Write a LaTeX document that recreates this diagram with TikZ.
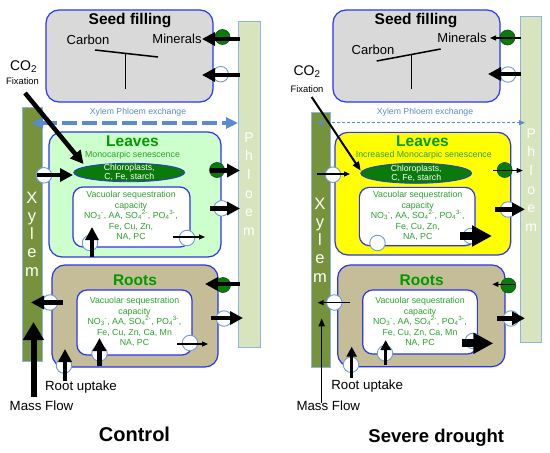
\documentclass[tikz,border=0pt]{standalone}
\usepackage{fontspec}
\setmainfont{Liberation Sans}
\usetikzlibrary{arrows.meta, shapes.geometric, positioning}
\definecolor{BoxBlue}{HTML}{2A35F0}
\definecolor{PortBlue}{HTML}{6F9BD6}
\definecolor{SeedGray}{HTML}{D9D9D9}
\definecolor{LeafMint}{HTML}{CCFFCC}
\definecolor{LeafYellow}{HTML}{FFFF00}
\definecolor{RootTan}{HTML}{C4BD97}
\definecolor{XylemOlive}{HTML}{76923C}
\definecolor{PhloemPale}{HTML}{D7E4BD}
\definecolor{BarEdge}{HTML}{8EB4E3}
\definecolor{ChloroGreen}{HTML}{0A7A0A}
\definecolor{TitleGreen}{HTML}{009A00}
\definecolor{TextGreen}{HTML}{2EA02E}
\definecolor{ExchBlue}{HTML}{5A8AD2}
\newcommand{\pxfont}[2]{\fontsize{#1}{#2}\selectfont}

\tikzset{
  organ/.style={draw=BoxBlue, line width=1.2, rounded corners=13, inner sep=0pt},
  vacuole/.style={draw=BoxBlue, fill=white, line width=1.2, rounded corners=10, inner sep=0pt},
  vactext/.style={text=TextGreen, align=center, inner sep=0pt, font=\pxfont{8.8}{10.5}},
  bar/.style={draw=BarEdge, line width=0.8, inner sep=0pt},
  xyletter/.style={text=white, anchor=base, inner sep=0pt, font=\pxfont{16.5}{17}},
  phletter/.style={text=white, anchor=base, inner sep=0pt, font=\pxfont{14}{14}},
  port/.style={circle, draw=PortBlue, fill=white, line width=0.9, minimum size=15.5, inner sep=0pt},
  gport/.style={circle, draw=ChloroGreen!70!black, fill=ChloroGreen, line width=0.6, minimum size=15, inner sep=0pt},
  chloro/.style={ellipse, draw=BoxBlue, fill=ChloroGreen, line width=0.8, inner sep=0pt},
  chlorotext/.style={text=white, align=center, inner sep=0pt, font=\pxfont{8.7}{9.5}},
  seedtitle/.style={font=\bfseries\pxfont{15.5}{16}, inner sep=0pt},
  organtitle/.style={text=TitleGreen, font=\bfseries\pxfont{15.5}{16}, inner sep=0pt},
  subtitle/.style={text=TextGreen, font=\pxfont{8.8}{10}, inner sep=0pt},
  seedword/.style={font=\pxfont{13}{14}, inner sep=0pt},
  footword/.style={font=\pxfont{13.3}{14}, inner sep=0pt},
  exchword/.style={text=ExchBlue, font=\pxfont{8.7}{10}, inner sep=0pt},
  caption/.style={font=\bfseries\pxfont{20}{20}, inner sep=0pt},
  beam/.style={line width=1.5},
  fatarr/.style={line width=4.5, -{Triangle[length=13pt,width=13pt]}},
  medarr/.style={line width=3.2, -{Triangle[length=10pt,width=10pt]}},
  thinarr/.style={line width=1.1, -{Triangle[length=6pt,width=5pt]}},
  hugearr/.style={line width=8, -{Triangle[length=20pt,width=20pt]}},
  flowarr/.style={line width=6, -{Triangle[length=18pt,width=20pt]}},
}

\begin{document}
\begin{tikzpicture}[x=1pt, y=-1pt]
\useasboundingbox (0,0) rectangle (550,453);

%% ---------- Control ----------
% bars
\node[bar, fill=PhloemPale, minimum width=22, minimum height=326] (phL) at (249,184) {};
\foreach \c [count=\i from 0] in {P,h,l,o,e,m}
  \node[phletter] (phL\i) at (249,142+18.7*\i) {\c};
\node[bar, fill=XylemOlive, minimum width=20, minimum height=254] (xyL) at (32,234) {};
\foreach \c [count=\i from 0] in {X,y,l,e,m}
  \node[xyletter] (xyL\i) at (32,203+18.3*\i) {\c};

% seed filling
\node[organ, fill=SeedGray, minimum width=167, minimum height=92] (seedL) at (129.5,56) {};
\node[seedtitle] (seedLt) at (130,21) {Seed filling};
\node[seedword] (carbL) at (88,40) {Carbon};
\node[seedword] (minL) at (177,39) {Minerals};
\coordinate (beamL1) at (95,50);
\coordinate (beamL2) at (158,57);
\coordinate (beamL3) at (125.7,53.4);
\coordinate (beamL4) at (125.7,89);
\draw[beam] (beamL1) -- (beamL2);
\draw[beam] (beamL3) -- (beamL4);

% leaves
\node[organ, fill=LeafMint, minimum width=172, minimum height=125] (leafL) at (135,194.5) {};
\node[organtitle] (leafLt) at (132.5,141.5) {Leaves};
\node[subtitle] (senL) at (132.5,155.5) {Monocarpic senescence};
\node[chloro, minimum width=111, minimum height=18.5] (chlL) at (129.2,172.5) {};
\node[chlorotext] (chlLt) at (chlL) {Chloroplasts,\\C, Fe, starch};
\node[vacuole, minimum width=117, minimum height=60] (vacL1) at (131.5,217) {};
\node[vactext] (vacL1t) at (131,216) {Vacuolar sequestration\\capacity\\NO\textsubscript{3}\textsuperscript{-}, AA, SO\textsubscript{4}\textsuperscript{2-}, PO\textsubscript{4}\textsuperscript{3-},\\Fe, Cu, Zn,\\NA, PC};

% roots
\node[organ, fill=RootTan, minimum width=166, minimum height=102] (rootL) at (135,316) {};
\node[organtitle] (rootLt) at (135,280) {Roots};
\node[vacuole, minimum width=115, minimum height=65] (vacL2) at (134.5,322.5) {};
\node[vactext] (vacL2t) at (134.5,322) {Vacuolar sequestration\\capacity\\NO\textsubscript{3}\textsuperscript{-}, AA, SO\textsubscript{4}\textsuperscript{2-}, PO\textsubscript{4}\textsuperscript{3-},\\Fe, Cu, Zn, Ca, Mn\\NA, PC};

% texts
\node[exchword] (exL) at (138,112.5) {Xylem Phloem exchange};
\node[font=\pxfont{14}{14}, inner sep=0pt] (co2L) at (23.5,67) {CO\textsubscript{2}};
\node[font=\pxfont{9.4}{10}, inner sep=0pt] (fixL) at (22.5,81.5) {Fixation};
\node[footword] (uptL) at (81,387) {Root uptake};
\node[footword] (massL) at (41.5,406) {Mass Flow};
\node[caption] (ctrl) at (134.5,434) {Control};

% transporters
\node[gport] (gsL) at (222.5,37) {};
\node[port] (psL) at (220.7,74.2) {};
\node[port] (plL1) at (44,175.3) {};
\node[gport] (glL) at (217,170) {};
\node[port] (plL2) at (221.7,208.3) {};
\node[port] (pvL1) at (90,243) {};
\node[port] (pvL2) at (187,238) {};
\node[port] (prL1) at (50,302.5) {};
\node[gport] (grL) at (223,285) {};
\node[port] (prL2) at (224,318.5) {};
\node[port] (pvL3) at (190,343) {};
\node[port] (pvL4) at (99.5,353.5) {};
\node[port] (prL3) at (64,365.5) {};

% fluxes
\coordinate (exLa) at (31,123);
\coordinate (exLb) at (238,123);
\draw[ExchBlue, line width=4, dash pattern=on 15pt off 5pt,
  {Triangle[length=12pt,width=10pt]}-{Triangle[length=12pt,width=11pt]}] (exLa) -- (exLb);
\coordinate (co2La) at (25,93);
\coordinate (co2Lb) at (83.5,164);
\draw[fatarr] (co2La) -- (co2Lb);
\coordinate (mnLa) at (240,39);   \coordinate (mnLb) at (202,39);
\coordinate (sdLa) at (240,75);   \coordinate (sdLb) at (202,75);
\coordinate (lfLa) at (37,175);   \coordinate (lfLb) at (73,175);
\coordinate (lgLa) at (210,170.5);\coordinate (lgLb) at (240,170.5);
\coordinate (lpLa) at (210,208.5);\coordinate (lpLb) at (240,208.5);
\coordinate (vuLa) at (92,257);   \coordinate (vuLb) at (92,227);
\coordinate (vtLa) at (173,237);  \coordinate (vtLb) at (205,237);
\coordinate (rxLa) at (63,302.5); \coordinate (rxLb) at (31,302.5);
\coordinate (rgLa) at (240,284);  \coordinate (rgLb) at (205,284);
\coordinate (rpLa) at (211,318);  \coordinate (rpLb) at (243,318);
\coordinate (rtLa) at (177,344);  \coordinate (rtLb) at (208,344);
\coordinate (ruLa) at (99.5,366); \coordinate (ruLb) at (99.5,338);
\coordinate (upLa) at (65,381);   \coordinate (upLb) at (65,349);
\coordinate (mfLa) at (33.5,397); \coordinate (mfLb) at (33.5,322);
\foreach \a/\b in {mnLa/mnLb, sdLa/sdLb, lfLa/lfLb, lgLa/lgLb, lpLa/lpLb, vuLa/vuLb,
                   rxLa/rxLb, rgLa/rgLb, rpLa/rpLb, ruLa/ruLb, upLa/upLb}
  \draw[fatarr] (\a) -- (\b);
\draw[thinarr] (vtLa) -- (vtLb);
\draw[thinarr] (rtLa) -- (rtLb);
\draw[flowarr] (mfLa) -- (mfLb);

%% ---------- Severe drought ----------
% bars
\node[bar, fill=PhloemPale, minimum width=21, minimum height=326] (phR) at (531.2,179.7) {};
\foreach \c [count=\i from 0] in {P,h,l,o,e,m}
  \node[phletter] (phR\i) at (531.2,138+18.7*\i) {\c};
\node[bar, fill=XylemOlive, minimum width=19, minimum height=255] (xyR) at (320.5,239.5) {};
\foreach \c [count=\i from 0] in {X,y,l,e,m}
  \node[xyletter] (xyR\i) at (320,209+18.3*\i) {\c};

% seed filling
\node[organ, fill=SeedGray, minimum width=167, minimum height=92] (seedR) at (416.5,56) {};
\node[seedtitle] (seedRt) at (416,21) {Seed filling};
\node[seedword] (carbR) at (373,50) {Carbon};
\node[seedword] (minR) at (462,38) {Minerals};
\coordinate (beamR1) at (376.7,61);
\coordinate (beamR2) at (440.7,49);
\coordinate (beamR3) at (411.7,54.4);
\coordinate (beamR4) at (411.7,89);
\draw[beam] (beamR1) -- (beamR2);
\draw[beam] (beamR3) -- (beamR4);

% leaves
\node[organ, fill=LeafYellow, minimum width=175.7, minimum height=122.7] (leafR) at (422.9,193.7) {};
\node[organtitle] (leafRt) at (422.5,141.7) {Leaves};
\node[subtitle] (senR) at (423.8,155.7) {Increased Monocarpic senescence};
\node[chloro, minimum width=111, minimum height=20] (chlR) at (416.2,173.3) {};
\node[chlorotext] (chlRt) at (chlR) {Chloroplasts,\\C, Fe, starch};
\node[vacuole, minimum width=115.7, minimum height=58.3] (vacR1) at (417.2,216.5) {};
\node[vactext] (vacR1t) at (417.7,216) {Vacuolar sequestration\\capacity\\NO\textsubscript{3}\textsuperscript{-}, AA, SO\textsubscript{4}\textsuperscript{2-}, PO\textsubscript{4}\textsuperscript{3-},\\Fe, Cu, Zn,\\NA, PC};

% roots
\node[organ, fill=RootTan, minimum width=167.3, minimum height=101.7] (rootR) at (421.3,315.8) {};
\node[organtitle] (rootRt) at (421.7,280) {Roots};
\node[vacuole, minimum width=114.7, minimum height=64] (vacR2) at (420,322) {};
\node[vactext] (vacR2t) at (420,322) {Vacuolar sequestration\\capacity\\NO\textsubscript{3}\textsuperscript{-}, AA, SO\textsubscript{4}\textsuperscript{2-}, PO\textsubscript{4}\textsuperscript{3-},\\Fe, Cu, Zn, Ca, Mn\\NA, PC};

% texts
\node[exchword] (exR) at (425,112.7) {Xylem Phloem exchange};
\node[font=\pxfont{14}{14}, inner sep=0pt] (co2R) at (307,71.7) {CO\textsubscript{2}};
\node[font=\pxfont{9.4}{10}, inner sep=0pt] (fixR) at (307,89.3) {Fixation};
\node[footword] (uptR) at (367.2,386) {Root uptake};
\node[footword] (massR) at (328.3,406) {Mass Flow};
\node[caption, font=\bfseries\pxfont{18.5}{19}] (drought) at (436.3,437.5) {Severe drought};

% transporters
\node[gport] (gsR) at (507.5,37.5) {};
\node[port] (psR) at (508,74.5) {};
\node[port] (plR1) at (333,174.7) {};
\node[gport] (glR) at (504.7,170) {};
\node[port] (plR2) at (508,209.5) {};
\node[port] (pvR1) at (377.5,243) {};
\node[port] (pvR2) at (471,236) {};
\node[port] (prR1) at (334.3,302.5) {};
\node[gport] (grR) at (508.3,285.5) {};
\node[port] (prR2) at (511,318.5) {};
\node[port] (pvR3) at (473,341) {};
\node[port] (pvR4) at (385,353.3) {};
\node[port] (prR3) at (351,364.7) {};

% fluxes
\coordinate (exRa) at (316.7,122.7);
\coordinate (exRb) at (525,122.7);
\draw[ExchBlue, line width=1, dash pattern=on 3pt off 2pt,
  {Triangle[length=6pt,width=5pt]}-{Triangle[length=6pt,width=5pt]}] (exRa) -- (exRb);
\coordinate (co2Ra) at (311.7,97);
\coordinate (co2Rb) at (360.7,170.7);
\draw[line width=2, -{Triangle[length=9pt,width=7pt]}] (co2Ra) -- (co2Rb);
\coordinate (mnRa) at (521,38);    \coordinate (mnRb) at (490,38);
\coordinate (sdRa) at (521,74);    \coordinate (sdRb) at (488,74);
\coordinate (lfRa) at (316.7,174); \coordinate (lfRb) at (350,174);
\coordinate (lgRa) at (493,170.5); \coordinate (lgRb) at (522.7,170.5);
\coordinate (lpRa) at (495,209.3); \coordinate (lpRb) at (525,209.3);
\coordinate (vtRa) at (460,236);   \coordinate (vtRb) at (492,236);
\coordinate (rxRa) at (350,302.7); \coordinate (rxRb) at (317.7,302.7);
\coordinate (rgRa) at (515,284.3); \coordinate (rgRb) at (492.3,284.3);
\coordinate (rpRa) at (496.7,318.3);\coordinate (rpRb) at (525,318.3);
\coordinate (rtRa) at (461.7,343.3);\coordinate (rtRb) at (493.3,343.3);
\coordinate (ruRa) at (385.7,365); \coordinate (ruRb) at (385.7,340);
\coordinate (upRa) at (351.7,378.3);\coordinate (upRb) at (351.7,346.7);
\coordinate (mfRa) at (321.7,403); \coordinate (mfRb) at (321.7,318.3);
\foreach \a/\b in {mnRa/mnRb, lfRa/lfRb, lgRa/lgRb, rxRa/rxRb, rgRa/rgRb}
  \draw[thinarr] (\a) -- (\b);
\foreach \a/\b in {sdRa/sdRb, lpRa/lpRb, rpRa/rpRb}
  \draw[fatarr] (\a) -- (\b);
\foreach \a/\b in {vtRa/vtRb, rtRa/rtRb}
  \draw[hugearr] (\a) -- (\b);
\foreach \a/\b in {ruRa/ruRb, upRa/upRb}
  \draw[medarr] (\a) -- (\b);
\draw[line width=1.5, -{Triangle[length=8pt,width=6pt]}] (mfRa) -- (mfRb);
\end{tikzpicture}
\end{document}
